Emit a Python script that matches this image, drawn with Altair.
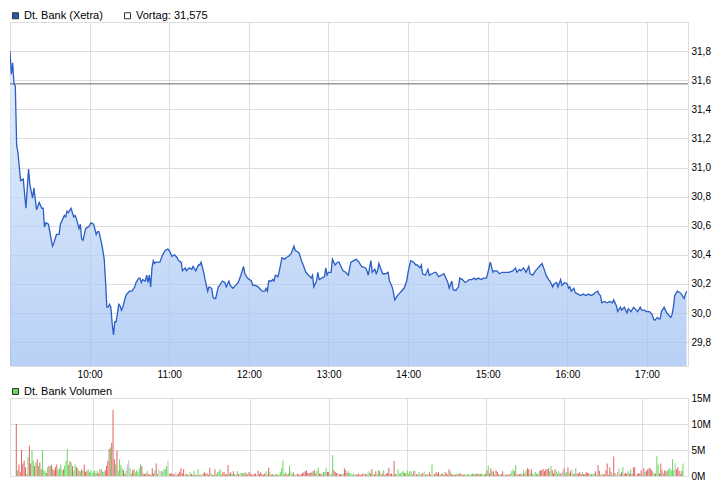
import altair as alt
import pandas as pd

FONT = "Liberation Sans"

# ---- price (minutes after 09:00, EUR) ----
price_points = [
    (0,31.80),(1,31.64),(2,31.72),(3,31.575),(4,31.56),(5,31.155),(6,31.10),(8,30.91),(10,30.92),(12,30.72),
    (14,30.99),(15,30.88),(17,30.79),(18,30.86),(20,30.71),(22,30.76),(24,30.72),(25,30.72),(26,30.59),(27,30.62),
    (29,30.61),(32,30.46),(33,30.48),(35,30.54),(37,30.54),(38,30.61),(41,30.67),(42,30.66),(43,30.70),(44,30.69),
    (46,30.72),(48,30.66),(49,30.67),(50,30.65),(52,30.58),(53,30.61),(54,30.51),(55,30.50),(57,30.58),(60,30.60),
    (61,30.62),(63,30.61),(65,30.54),(66,30.56),(67,30.56),(69,30.48),(70,30.43),(71,30.37),(72,30.22),(73,30.04),
    (74,30.04),(75,30.06),(76,30.04),(77,29.93),(78,29.85),(79,29.94),(80,29.94),(82,30.06),(83,30.05),(84,30.02),
    (85,30.04),(87,30.11),(88,30.13),(90,30.15),(92,30.15),(94,30.18),(95,30.21),(97,30.24),(98,30.24),(99,30.21),
    (100,30.23),(102,30.22),(103,30.26),(104,30.21),(105,30.26),(106,30.18),(107,30.31),(108,30.36),(109,30.34),(110,30.35),
    (112,30.35),(113,30.35),(115,30.40),(117,30.43),(119,30.44),(120,30.43),(122,30.39),(124,30.40),(126,30.38),(127,30.36),
    (129,30.35),(130,30.29),(132,30.31),(133,30.29),(135,30.31),(137,30.30),(138,30.32),(140,30.29),(142,30.33),(143,30.33),
    (144,30.35),(146,30.28),(147,30.23),(149,30.15),(150,30.18),(152,30.17),(153,30.11),(154,30.10),(155,30.10),(157,30.18),
    (158,30.19),(160,30.22),(162,30.21),(163,30.18),(165,30.22),(166,30.19),(168,30.17),(170,30.19),(172,30.21),(174,30.26),
    (176,30.32),(177,30.27),(179,30.24),(182,30.22),(183,30.19),(185,30.19),(187,30.18),(188,30.17),(190,30.15),(192,30.15),
    (193,30.17),(194,30.15),(195,30.22),(197,30.22),(198,30.23),(199,30.22),(200,30.26),(202,30.25),(203,30.29),(205,30.38),
    (207,30.37),(208,30.38),(210,30.39),(212,30.41),(214,30.46),(215,30.43),(217,30.42),(218,30.41),(220,30.35),(221,30.33),
    (223,30.28),(225,30.26),(227,30.24),(228,30.26),(229,30.18),(231,30.22),(232,30.28),(233,30.23),(235,30.24),(237,30.25),
    (238,30.31),(239,30.26),(240,30.28),(242,30.28),(243,30.37),(245,30.33),(247,30.35),(248,30.35),(250,30.31),(251,30.29),
    (253,30.28),(255,30.26),(256,30.31),(257,30.35),(259,30.36),(261,30.37),(263,30.35),(265,30.32),(268,30.31),(269,30.29),
    (270,30.26),(271,30.31),(272,30.36),(273,30.28),(275,30.30),(276,30.27),(277,30.29),(278,30.34),(280,30.29),(281,30.27),
    (283,30.27),(285,30.28),(286,30.22),(288,30.18),(289,30.14),(290,30.09),(292,30.12),(293,30.13),(295,30.15),(297,30.17),
    (299,30.22),(300,30.28),(302,30.36),(304,30.35),(306,30.33),(307,30.33),(309,30.31),(310,30.33),(311,30.27),(313,30.26),
    (315,30.30),(316,30.26),(318,30.27),(320,30.28),(321,30.28),(323,30.25),(325,30.26),(327,30.27),(329,30.23),(330,30.21),
    (331,30.17),(333,30.22),(334,30.16),(336,30.155),(338,30.18),(339,30.24),(341,30.23),(343,30.21),(345,30.22),(346,30.23),
    (348,30.23),(350,30.24),(351,30.23),(353,30.24),(355,30.23),(357,30.24),(359,30.24),(360,30.27),(362,30.35),(364,30.28),
    (365,30.29),(367,30.29),(369,30.27),(371,30.28),(374,30.28),(376,30.28),(379,30.29),(381,30.31),(382,30.28),(384,30.30),
    (385,30.29),(387,30.31),(389,30.28),(391,30.32),(392,30.27),(394,30.26),(396,30.29),(398,30.31),(400,30.33),(401,30.34),
    (403,30.29),(404,30.26),(406,30.23),(407,30.22),(409,30.18),(410,30.20),(412,30.21),(413,30.18),(415,30.23),(416,30.19),
    (418,30.21),(420,30.20),(421,30.17),(422,30.18),(423,30.15),(425,30.17),(426,30.14),(428,30.13),(430,30.12),(432,30.13),
    (434,30.12),(436,30.13),(438,30.12),(440,30.13),(441,30.14),(443,30.15),(444,30.13),(445,30.12),(446,30.07),(448,30.08),
    (450,30.07),(452,30.08),(454,30.07),(455,30.09),(457,30.05),(458,30.01),(460,30.04),(461,30.02),(463,30.04),(465,30.00),
    (466,30.03),(468,30.01),(470,30.04),(471,30.03),(473,30.01),(475,30.04),(476,30.02),(478,30.02),(480,30.01),(482,30.01),
    (484,29.99),(485,29.96),(486,29.95),(488,29.97),(489,29.96),(490,29.96),(491,30.01),(493,30.04),(494,30.02),(495,30.00),
    (496,29.99),(498,29.97),(499,29.99),(500,30.04),(501,30.12),(503,30.15),(505,30.14),(506,30.13),(508,30.10),(509,30.13),
    (510,30.15),
]
prev_close = 31.575

# ---- volume per minute (millions); direction r=down, g=up, n=unchanged ----
vol_morning = [
    10.0,1.1,2.2,0.8,5.0,2.4,3.0,1.7,0.4,3.6, 5.8,2.4,4.9,3.0,1.9,2.6,3.2,1.9,2.6,1.3,
    5.0,1.1,0.9,0.6,1.7,1.9,1.9,2.2,1.3,1.1, 1.7,2.2,1.1,1.5,2.2,1.1,1.3,1.9,2.9,5.2,
    2.1,2.9,2.6,1.9,1.0,2.2,1.7,1.5,1.0,0.9, 1.3,1.0,2.2,0.8,1.0,1.3,0.7,1.1,0.6,0.9,
    1.0,0.6,1.0,0.5,1.3,1.3,0.8,0.8,1.1,1.9, 2.9,5.2,5.5,6.4,12.75,3.2,2.2,4.9,1.0,3.2,
    2.1,1.5,1.1,0.5,1.0,2.2,3.0,1.5,0.5,1.1, 1.3,0.7,1.1,0.8,1.5,2.2,1.9,0.5,0.4,0.5,
    0.9,0.4,0.25,0.25,1.5,0.5,1.1,2.4,0.4,1.3, 0.9,0.9,0.9,1.3,1.3,1.9,2.9,0.5,0.5,0.5,
    0.4,0.25,0.7,0.25,0.5,0.8,1.5,0.5,1.3,0.25, 0.5,0.25,0.25,0.7,0.4,0.25,0.9,0.25,0.25,1.3,
    0.25,0.25,0.25,0.5,0.7,0.5,0.5,0.25,1.6,0.5, 0.25,0.25,1.3,0.5,0.7,1.0,1.3,0.25,0.7,0.7,
    0.25,0.4,2.1,0.5,0.7,0.4,0.9,0.4,0.25,0.9, 0.4,0.4,0.6,0.6,0.5,0.75,0.5,0.25,0.75,0.5,
    0.25,0.25,0.4,0.5,0.25,1.0,0.4,0.7,0.4,0.25, 0.5,0.9,0.25,1.6,0.7,0.25,0.4,0.25,0.25,0.4,
    0.25,0.25,0.7,1.5,3.0,0.4,0.7,0.25,0.5,1.9, 0.9,0.5,0.75,0.25,0.25,0.5,0.25,0.25,0.4,0.6,
    0.7,0.9,1.1,0.6,0.6,0.6,0.75,0.9,1.1,0.6, 1.0,1.6,0.5,0.5,0.25,0.75,0.75,1.5,0.75,0.75,
    0.25,0.5,4.0,1.1,0.75,0.6,0.6,0.4,0.4,0.25, 0.5,1.5,
]
dir_morning = (
    "rgrrrrrrgg" "rrggrgrgrr" "gggrgrgrrr" "rrggggrggg" "grgrggrgrg" "rgrrrggggg"
    "grgrrgggrr" "rrgrrrgrgg" "ggrrgnnggr" "rgggggrrrr" "grrrrrgrgn" "nnggggngrr"
    "rrnrrrrrrg" "rgrgrrgrgg" "rggrrrrrrg" "grrngggrrr" "rrrgrgrgrg" "rnggrgrrrr"
    "rrrrnrrrrr" "rgrrgrgrrg" "grgggrgrrg" "nggrnrrrrr" "rrrrrrgrrg" "ggrrrgggrr"
    "nggrrrnrrr" "gr"
)
vol_afternoon = [
    1.1,0.6,0.9,0.6,0.5,0.25,0.5,0.25,0.4,0.25, 0.5,0.25,0.25,0.5,0.5,0.4,0.25,0.6,0.9,0.5,
    1.3,0.4,0.25,0.9,0.4,1.1,0.9,0.25,0.5,1.1, 0.25,0.5,0.6,1.6,0.4,0.5,0.25,2.9,0.4,0.25,
    1.3,0.5,0.5,0.75,1.0,0.6,0.6,1.1,0.4,0.9, 0.9,0.25,0.9,1.1,0.4,0.25,0.75,0.25,0.5,0.6,
    0.9,0.25,0.4,0.25,0.7,0.25,2.2,0.25,0.4,0.7, 0.5,0.75,0.25,0.4,0.6,0.25,0.75,0.5,0.25,1.3,
    0.9,0.4,0.25,0.25,0.25,0.5,0.4,0.5,0.5,0.25, 0.25,0.4,0.25,0.25,0.4,0.25,0.4,0.5,0.4,0.4,
    0.4,0.5,0.4,0.4,0.5,0.25,0.4,0.5,1.1,1.9, 0.5,1.5,0.9,0.9,0.25,1.1,0.75,0.4,0.25,0.4,
    0.9,0.25,0.5,0.25,0.25,0.4,0.5,0.9,1.3,0.9, 2.1,0.4,0.25,0.4,0.5,0.25,1.1,0.5,1.0,1.5,
    1.3,0.5,1.3,0.5,0.25,0.75,0.5,0.4,0.9,1.1, 1.1,1.3,0.9,1.3,1.3,1.5,0.9,1.9,1.1,0.5,
    1.3,0.9,0.5,0.9,0.5,0.6,0.9,1.5,0.5,0.75, 1.7,0.6,0.9,1.3,0.4,0.5,1.5,0.5,0.5,0.75,
    0.4,0.75,0.4,0.4,0.75,0.6,0.5,0.4,0.4,0.4, 0.6,0.9,0.25,2.1,1.0,0.25,0.5,0.4,0.25,1.1,
    2.4,0.25,1.7,0.75,0.25,3.75,0.6,0.25,0.75,1.5, 0.4,0.75,1.7,0.4,0.6,0.5,0.9,0.5,1.3,0.4,
    1.7,1.7,0.25,0.4,0.6,0.5,1.1,0.25,1.5,0.75, 1.0,1.3,1.5,1.5,1.1,0.75,0.5,0.5,3.9,2.2,
    0.5,2.4,1.1,0.5,1.1,0.9,1.0,1.3,1.6,1.1, 3.2,1.1,2.4,1.3,1.7,1.0,0.5,1.0,2.4,
]
dir_afternoon = (
    "rrgggggnrr" "rrrrnrrggr" "rgrrggrrrg" "rrrrrrgrrg" "gggggrgggg" "grrnrrgrgr"
    "nrgrrrgnrr" "rrgrgrrrrr" "grrrrgrgrr" "rggrggggrg" "rgrrggggrg" "rrgrrrrgrr"
    "rgnrrrnggr" "grgrrrgrgr" "rgrggggrgr" "rrrrrrggrr" "rgggrnnrgg" "rgrnrggrrr"
    "rgrrrrrggg" "grnrrgnrrr" "rgrrgrrngn" "rrgrrrgrgr" "rrnrrrrnrg" "rrrrrggrgg"
    "rrrgrrgggg" "ggnrrrgrg"
)
morning_start, afternoon_start = 1, 253

hour_ticks = [60, 120, 180, 240, 300, 360, 420, 480]
price_ticks = [29.8, 30.0, 30.2, 30.4, 30.6, 30.8, 31.0, 31.2, 31.4, 31.6, 31.8]
vol_ticks = [0, 5, 10, 15]
price_legend = ["Dt. Bank (Xetra)", "Vortag: 31,575"]
vol_legend = ["Dt. Bank Volumen"]

price_df = pd.DataFrame(price_points, columns=["minute", "price"])
rows = []
for i, (v, d) in enumerate(zip(vol_morning, dir_morning)):
    rows.append((morning_start + i, v, d))
for i, (v, d) in enumerate(zip(vol_afternoon, dir_afternoon)):
    rows.append((afternoon_start + i, v, d))
vol_df = pd.DataFrame(rows, columns=["minute", "volume", "dir"])

W, H1, H2 = 678, 344, 78
PRICE_MIN, PRICE_MAX = 29.636, 32.0
x_scale = alt.Scale(domain=[0, 511], nice=False, zero=False)
GRID = "#dadada"

def legend(x, y):
    return alt.Legend(
        title=None, orient="none", legendX=x, legendY=y, direction="horizontal",
        symbolType="square", symbolSize=36, symbolStrokeColor="#333333", symbolStrokeWidth=1,
        symbolOpacity=1, labelFont=FONT, labelFontSize=11, labelColor="#000000",
        labelOffset=3, columnPadding=19, padding=0, offset=0,
    )

price_df["base"] = PRICE_MIN

x_price = alt.X("minute:Q", scale=x_scale, title=None,
                axis=alt.Axis(values=hour_ticks, tickCount=50,
                              labelExpr="(9 + datum.value / 60) + ':00'",
                              ticks=False, domain=False, grid=True, labelPadding=3,
                              labelOverlap=False))
y_price = alt.Y("price:Q", scale=alt.Scale(domain=[PRICE_MIN, PRICE_MAX], nice=False, zero=False),
                title=None,
                axis=alt.Axis(orient="right", values=price_ticks, tickCount=50,
                              labelExpr="replace(format(datum.value, '.1f'), '.', ',')",
                              ticks=False, domain=False, grid=True, labelPadding=3,
                              labelOverlap=False))

area = alt.Chart(price_df).mark_area(
    color=alt.Gradient(gradient="linear",
                       stops=[alt.GradientStop(color="#dbe8fb", offset=0),
                              alt.GradientStop(color="#9bbdf2", offset=1)],
                       x1=1, x2=1, y1=0, y2=1),
    opacity=0.7, clip=True,
).encode(x=x_price, y=y_price, y2="base:Q")

line = alt.Chart(price_df).mark_line(color="#2a5ec4", strokeWidth=1.3, clip=True).encode(
    x="minute:Q", y="price:Q")

rule = alt.Chart(pd.DataFrame({"price": [prev_close]})).mark_rule(
    color="#666666", strokeWidth=1).encode(y="price:Q")

price_leg = alt.Chart(pd.DataFrame({"item": price_legend})).mark_square(
    filled=True, opacity=0).encode(
    fill=alt.Fill("item:N", scale=alt.Scale(domain=price_legend, range=["#2458c0", "#ffffff"]),
                  legend=legend(0, -12)))

price_chart = alt.layer(area, rule, line, price_leg).properties(width=W, height=H1)

bars = alt.Chart(vol_df).mark_bar(width=1, clip=True).encode(
    x=alt.X("minute:Q", scale=x_scale, title=None,
            axis=alt.Axis(values=hour_ticks, tickCount=50, labels=False, ticks=False,
                          domain=False, grid=True)),
    y=alt.Y("volume:Q", scale=alt.Scale(domain=[0, 15], nice=False), title=None,
            axis=alt.Axis(orient="right", values=vol_ticks, tickCount=50,
                          labelExpr="datum.value + 'M'",
                          ticks=False, domain=False, grid=True, labelPadding=3,
                          labelOverlap=False)),
    color=alt.Color("dir:N", scale=alt.Scale(domain=["r", "g", "n"],
                                             range=["#e06464", "#66d85c", "#bdbdbd"]), legend=None),
)
vol_leg = alt.Chart(pd.DataFrame({"item": vol_legend})).mark_square(
    filled=True, opacity=0).encode(
    fill=alt.Fill("item:N", scale=alt.Scale(domain=vol_legend, range=["#66d85c"]),
                  legend=legend(0, -12)))

vol_chart = alt.layer(bars, vol_leg).properties(width=W, height=H2)

chart = alt.vconcat(price_chart, vol_chart, spacing=5).resolve_scale(
    fill="independent", color="independent"
).properties(
    padding={"left": 1, "top": 1, "right": 2, "bottom": 1}
).configure_view(
    stroke="#d4d4d4", strokeWidth=1
).configure_axis(
    labelFont=FONT, labelFontSize=11, labelColor="#000000", gridColor=GRID, gridWidth=1
).configure(background="#ffffff")

chart.save("out.html", embed_options={"renderer": "svg", "actions": False})
